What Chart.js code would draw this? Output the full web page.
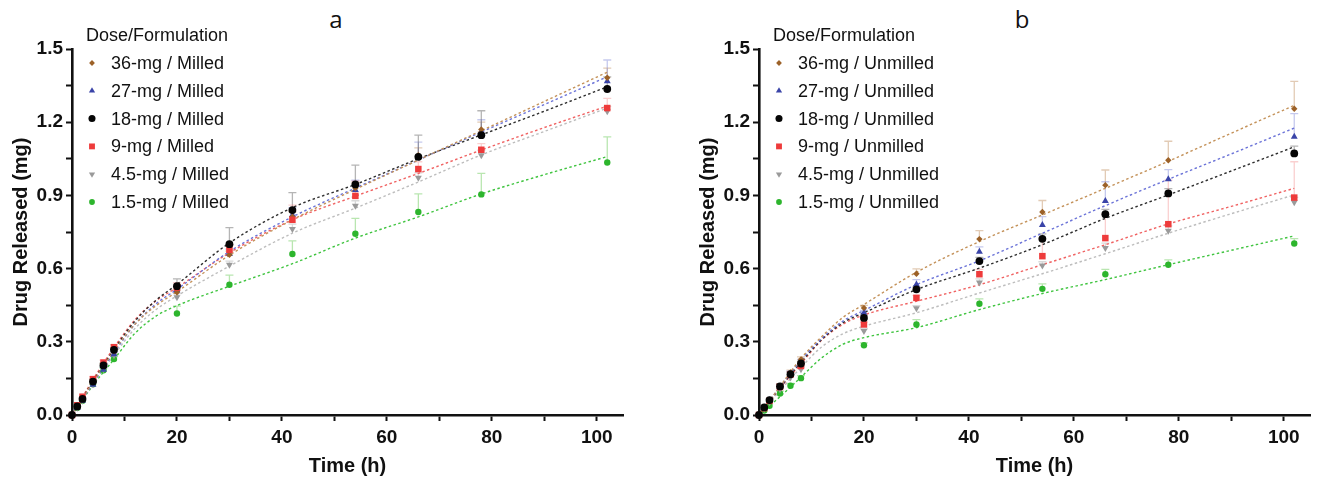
<!DOCTYPE html>
<html>
<head>
<meta charset="utf-8">
<script src="https://cdn.jsdelivr.net/npm/chart.js@4/dist/chart.umd.min.js"></script>
<style>
  html, body { margin: 0; padding: 0; background: #fff; overflow: hidden; }
  #wrap { position: relative; width: 1321px; height: 483px; }
  canvas { position: absolute; top: 0; }
  .panel { position: absolute; top: 2px; font: 24px "Open Sans", sans-serif; color: #111; transform: translateX(-50%); }
</style>
</head>
<body>
<div id="wrap">
  <div class="panel" style="left:336px">a</div>
  <div class="panel" style="left:1022px">b</div>
  <canvas id="chartA" width="634" height="483" style="left:0px"></canvas>
  <canvas id="chartB" width="634" height="483" style="left:687px"></canvas>
</div>
<script>
// sampling times (h) and times where the fitted curves are read
const timeH = [0, 1, 2, 4, 6, 8, 20, 30, 42, 54, 66, 78, 102];
const fitTimeH = [0, 4, 8, 12, 16, 20, 30, 42, 54, 66, 78, 90, 102];

const doseLabels = ['36-mg', '27-mg', '18-mg', '9-mg', '4.5-mg', '1.5-mg'];
const xTickLabels = ['0', '20', '40', '60', '80', '100'];
const yTickLabels = ['0.0', '0.3', '0.6', '0.9', '1.2', '1.5'];

// milled: mean release (mg)
const mil36 = [0, 0.035, 0.065, 0.136, 0.200, 0.262, 0.503, 0.657, 0.813, 0.930, 1.065, 1.170, 1.382];
const mil27 = [0, 0.030, 0.058, 0.124, 0.185, 0.249, 0.511, 0.660, 0.820, 0.922, 1.058, 1.160, 1.368];
const mil18 = [0, 0.035, 0.066, 0.137, 0.203, 0.267, 0.528, 0.700, 0.840, 0.945, 1.058, 1.147, 1.336];
const mil9 = [0, 0.040, 0.075, 0.147, 0.215, 0.278, 0.522, 0.677, 0.800, 0.898, 1.008, 1.087, 1.258];
const mil4p5 = [0, 0.030, 0.058, 0.126, 0.188, 0.245, 0.483, 0.616, 0.762, 0.858, 0.972, 1.065, 1.245];
const mil1p5 = [0, 0.030, 0.058, 0.126, 0.183, 0.229, 0.416, 0.534, 0.660, 0.743, 0.832, 0.904, 1.035];

// milled: upper SD
const mil36Sd = [0, 0, 0, 0.01, 0.01, 0.01, 0.01, 0.015, 0.02, 0.02, 0.03, 0.03, 0.04];
const mil27Sd = [0, 0, 0, 0.01, 0.01, 0.01, 0.015, 0.02, 0.03, 0.04, 0.06, 0.05, 0.087];
const mil18Sd = [0, 0, 0, 0.01, 0.01, 0.01, 0.03, 0.068, 0.071, 0.079, 0.089, 0.10, 0.05];
const mil9Sd = [0, 0, 0, 0.01, 0.01, 0.01, 0.02, 0.02, 0.06, 0.06, 0.03, 0.025, 0.04];
const mil4p5Sd = [0, 0, 0, 0.01, 0.01, 0.01, 0.015, 0.015, 0.02, 0.02, 0.02, 0.02, 0.02];
const mil1p5Sd = [0, 0, 0, 0.01, 0.01, 0.01, 0.03, 0.039, 0.054, 0.063, 0.074, 0.086, 0.105];

// milled: fitted release curves
const mil36Fit = [0, 0.135, 0.262, 0.372, 0.448, 0.505, 0.655, 0.800, 0.925, 1.045, 1.165, 1.285, 1.405];
const mil27Fit = [0, 0.130, 0.255, 0.372, 0.455, 0.515, 0.670, 0.812, 0.930, 1.045, 1.160, 1.272, 1.386];
const mil18Fit = [0, 0.138, 0.268, 0.385, 0.470, 0.535, 0.705, 0.850, 0.945, 1.050, 1.148, 1.245, 1.345];
const mil9Fit = [0, 0.145, 0.276, 0.390, 0.468, 0.522, 0.665, 0.800, 0.897, 0.990, 1.086, 1.178, 1.266];
const mil4p5Fit = [0, 0.128, 0.245, 0.355, 0.432, 0.488, 0.610, 0.745, 0.848, 0.955, 1.066, 1.162, 1.258];
const mil1p5Fit = [0, 0.122, 0.228, 0.335, 0.405, 0.448, 0.528, 0.620, 0.725, 0.812, 0.906, 0.985, 1.059];

// unmilled: mean release (mg)
const unm36 = [0, 0.031, 0.061, 0.117, 0.174, 0.228, 0.439, 0.579, 0.721, 0.832, 0.942, 1.044, 1.255];
const unm27 = [0, 0.030, 0.060, 0.115, 0.170, 0.218, 0.419, 0.535, 0.669, 0.779, 0.877, 0.966, 1.140];
const unm18 = [0, 0.031, 0.061, 0.117, 0.167, 0.211, 0.398, 0.515, 0.631, 0.722, 0.823, 0.908, 1.072];
const unm9 = [0, 0.028, 0.058, 0.115, 0.166, 0.201, 0.371, 0.480, 0.577, 0.651, 0.725, 0.782, 0.891];
const unm4p5 = [0, 0.025, 0.052, 0.106, 0.154, 0.188, 0.344, 0.438, 0.543, 0.613, 0.684, 0.755, 0.872];
const unm1p5 = [0, 0.018, 0.038, 0.088, 0.120, 0.151, 0.286, 0.371, 0.456, 0.517, 0.577, 0.616, 0.703];

// unmilled: upper SD
const unm36Sd = [0, 0, 0, 0.01, 0.01, 0.01, 0.01, 0.02, 0.035, 0.047, 0.062, 0.078, 0.112];
const unm27Sd = [0, 0, 0, 0.01, 0.01, 0.01, 0.01, 0.02, 0.02, 0.034, 0.079, 0.04, 0.095];
const unm18Sd = [0, 0, 0, 0.01, 0.01, 0.01, 0.01, 0.01, 0.015, 0.02, 0.02, 0.02, 0.03];
const unm9Sd = [0, 0, 0, 0.01, 0.01, 0.01, 0.01, 0.01, 0.02, 0.07, 0.10, 0.18, 0.147];
const unm4p5Sd = [0, 0, 0, 0.01, 0.01, 0.01, 0.01, 0.01, 0.015, 0.015, 0.02, 0.02, 0.02];
const unm1p5Sd = [0, 0, 0, 0.01, 0.01, 0.01, 0.01, 0.02, 0.02, 0.02, 0.02, 0.02, 0.02];

// unmilled: fitted release curves
const unm36Fit = [0, 0.117, 0.232, 0.322, 0.400, 0.453, 0.585, 0.711, 0.820, 0.929, 1.040, 1.155, 1.269];
const unm27Fit = [0, 0.115, 0.225, 0.315, 0.385, 0.428, 0.534, 0.632, 0.745, 0.858, 0.966, 1.070, 1.176];
const unm18Fit = [0, 0.112, 0.216, 0.310, 0.378, 0.419, 0.514, 0.602, 0.698, 0.806, 0.902, 1.000, 1.099];
const unm9Fit = [0, 0.110, 0.210, 0.308, 0.372, 0.410, 0.466, 0.534, 0.616, 0.698, 0.783, 0.855, 0.929];
const unm4p5Fit = [0, 0.100, 0.195, 0.280, 0.333, 0.364, 0.419, 0.500, 0.579, 0.661, 0.745, 0.825, 0.902];
const unm1p5Fit = [0, 0.075, 0.155, 0.235, 0.290, 0.317, 0.358, 0.432, 0.498, 0.555, 0.616, 0.675, 0.734];

// per-dose drawing style
const styles = [
  { point: 'rectRot', r: 3.2, rot: 0, color: '#9c6128', line: '#c4925a', err: 'rgba(190,140,90,0.45)', order: 2 },
  { point: 'triangle', r: 4, rot: 0, color: '#3a44a8', line: '#6c74d8', err: 'rgba(110,120,210,0.4)', order: 3 },
  { point: 'circle', r: 3.9, rot: 0, color: '#050505', line: '#2e2e2e', err: 'rgba(90,90,90,0.45)', order: 0 },
  { point: 'rect', r: 4.6, rot: 0, color: '#ee3b3b', line: '#f06262', err: 'rgba(240,120,120,0.35)', order: 1 },
  { point: 'triangle', r: 4, rot: 180, color: '#9a9a9a', line: '#bdbdbd', err: 'rgba(160,160,160,0.4)', order: 4 },
  { point: 'circle', r: 3.2, rot: 0, color: '#2db52d', line: '#3fc43f', err: 'rgba(100,200,80,0.45)', order: 5 }
];

const toPoints = (xs, ys) => xs.map((t, i) => ({ x: t, y: ys[i] }));

// vertical upper error bars with caps, drawn beneath the markers
const errorBars = {
  id: 'errorBars',
  beforeDatasetsDraw(chart) {
    const { ctx, scales: { x, y } } = chart;
    chart.data.datasets.forEach(ds => {
      if (!ds.sd) return;
      ctx.save();
      ctx.strokeStyle = ds.errColor;
      ctx.lineWidth = 1.3;
      ds.data.forEach((p, i) => {
        const sd = ds.sd[i];
        if (!sd) return;
        const px = x.getPixelForValue(p.x);
        const y0 = y.getPixelForValue(p.y);
        const y1 = y.getPixelForValue(p.y + sd);
        ctx.beginPath();
        ctx.moveTo(px, y0);
        ctx.lineTo(px, y1);
        ctx.moveTo(px - 4, y1);
        ctx.lineTo(px + 4, y1);
        ctx.stroke();
      });
      ctx.restore();
    });
  }
};

// legend block in the top-left corner of the plot
const doseLegend = {
  id: 'doseLegend',
  afterDraw(chart, args, opts) {
    const ctx = chart.ctx;
    ctx.save();
    ctx.font = '18px "Liberation Sans", Arial, sans-serif';
    ctx.fillStyle = '#111';
    ctx.textBaseline = 'middle';
    ctx.textAlign = 'left';
    ctx.fillText('Dose/Formulation', 86, 36);
    doseLabels.forEach((d, i) => {
      const s = styles[i];
      const yy = 63 + i * 27.8;
      ctx.fillStyle = s.color;
      Chart.helpers.drawPoint(ctx, { pointStyle: s.point, radius: s.r * 0.9, rotation: s.rot, borderWidth: 0 }, 92, yy);
      ctx.fillStyle = '#111';
      ctx.fillText(d + ' / ' + opts.form, 111, yy + 1);
    });
    ctx.restore();
  }
};

function makeChart(id, form, means, sds, fits) {
  const datasets = [];
  fits.forEach((f, i) => {
    datasets.push({
      type: 'scatter',
      data: toPoints(fitTimeH, f),
      showLine: true,
      cubicInterpolationMode: 'monotone',
      borderColor: styles[i].line,
      borderWidth: 1.4,
      borderDash: [2.5, 2.5],
      pointRadius: 0,
      order: 10 + i
    });
  });
  means.forEach((m, i) => {
    const s = styles[i];
    datasets.push({
      type: 'scatter',
      label: doseLabels[i] + ' / ' + form,
      data: toPoints(timeH, m),
      sd: sds[i],
      errColor: s.err,
      pointStyle: s.point,
      pointRadius: s.r,
      pointRotation: s.rot,
      backgroundColor: s.color,
      borderColor: s.color,
      borderWidth: 0,
      clip: false,
      order: s.order
    });
  });

  const tickFont = { family: '"Liberation Sans", Arial, sans-serif', size: 19, weight: 'bold' };
  const titleFont = { family: '"Liberation Sans", Arial, sans-serif', size: 20, weight: 'bold' };

  return new Chart(document.getElementById(id), {
    type: 'scatter',
    data: { datasets },
    options: {
      responsive: false,
      animation: false,
      devicePixelRatio: 1,
      layout: { padding: { left: 0, right: 11, top: 49, bottom: 0 } },
      plugins: {
        legend: { display: false },
        tooltip: { enabled: false },
        doseLegend: { form }
      },
      scales: {
        x: {
          type: 'linear',
          min: 0,
          max: 105,
          afterBuildTicks: sc => { sc.ticks = [0, 10, 20, 30, 40, 50, 60, 70, 80, 90, 100].map(v => ({ value: v })); },
          afterFit: sc => { sc.height = 68; },
          ticks: {
            autoSkip: false,
            maxRotation: 0,
            padding: 5,
            color: '#111',
            font: tickFont,
            callback: v => (v % 20 === 0 ? xTickLabels[v / 20] : '')
          },
          grid: { drawOnChartArea: false, drawTicks: true, tickLength: 6, tickWidth: 2, tickColor: '#111' },
          border: { display: true, width: 2.6, color: '#111' },
          title: { display: true, text: 'Time (h)', color: '#111', font: titleFont, padding: { top: 0, bottom: 5 } }
        },
        y: {
          type: 'linear',
          min: 0,
          max: 1.5,
          afterBuildTicks: sc => { sc.ticks = [0, 1, 2, 3, 4, 5, 6, 7, 8, 9, 10].map(k => ({ value: +(k * 0.15).toFixed(2) })); },
          afterFit: sc => { sc.width = 72; },
          ticks: {
            autoSkip: false,
            padding: 3,
            color: '#111',
            font: tickFont,
            callback: v => {
              const k = Math.round(v / 0.15);
              return k % 2 === 0 ? yTickLabels[k / 2] : '';
            }
          },
          grid: { drawOnChartArea: false, drawTicks: true, tickLength: 6, tickWidth: 2, tickColor: '#111' },
          border: { display: true, width: 2.6, color: '#111' },
          title: { display: true, text: 'Drug Released (mg)', color: '#111', font: titleFont, padding: { top: 9, bottom: 0 } }
        }
      }
    },
    plugins: [errorBars, doseLegend]
  });
}

makeChart('chartA', 'Milled',
  [mil36, mil27, mil18, mil9, mil4p5, mil1p5],
  [mil36Sd, mil27Sd, mil18Sd, mil9Sd, mil4p5Sd, mil1p5Sd],
  [mil36Fit, mil27Fit, mil18Fit, mil9Fit, mil4p5Fit, mil1p5Fit]);

makeChart('chartB', 'Unmilled',
  [unm36, unm27, unm18, unm9, unm4p5, unm1p5],
  [unm36Sd, unm27Sd, unm18Sd, unm9Sd, unm4p5Sd, unm1p5Sd],
  [unm36Fit, unm27Fit, unm18Fit, unm9Fit, unm4p5Fit, unm1p5Fit]);
</script>
</body>
</html>
